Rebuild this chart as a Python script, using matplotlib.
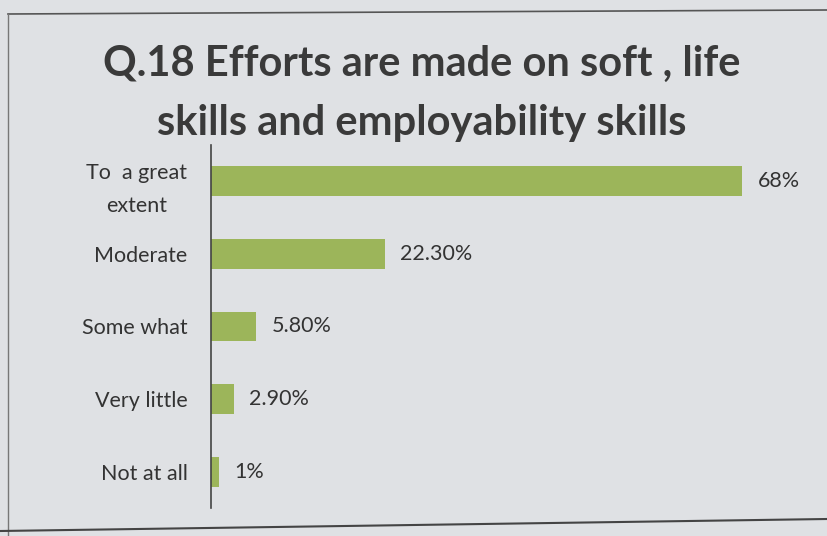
import matplotlib
matplotlib.use("Agg")
import matplotlib.pyplot as plt
from matplotlib.lines import Line2D

categories = ["To  a great\nextent", "Moderate", "Some what", "Very little", "Not at all"]
values = [68, 22.3, 5.8, 2.9, 1]
value_labels = ["68%", "22.30%", "5.80%", "2.90%", "1%"]
title = "Q.18 Efforts are made on soft , life\nskills and employability skills"

fam = ["Lato", "DejaVu Sans"]
plt.rcParams['font.family'] = fam

W, H = 827, 536
fig = plt.figure(figsize=(W/100, H/100), dpi=100)
fig.patch.set_facecolor("#dfe1e4")

ax = fig.add_axes([211/W, (H-508)/H, 600/W, 363/H])
ax.set_facecolor("none")
y = list(range(len(categories)))
ax.barh(y, values, height=0.41, color="#9cb55a")
ax.set_xlim(0, 76.8)
ax.set_ylim(4.5, -0.5)
ax.set_yticks(y)
ax.set_yticklabels(categories, fontsize=15.5, color="#333333", ha="right",
                   multialignment="center", linespacing=1.8)
ax.tick_params(axis="y", length=0, pad=17)
ax.set_xticks([])
for s in ["top", "right", "bottom"]:
    ax.spines[s].set_visible(False)
ax.spines["left"].set_color("#444444")
ax.spines["left"].set_linewidth(1.2)

for yi, v, lab in zip(y, values, value_labels):
    ax.annotate(lab, (v, yi), xytext=(11, 0), textcoords="offset points",
                ha="left", va="center", fontsize=15.5, color="#333333")

fig.text(422/W, 1-93/H, title, ha="center", va="center", fontsize=30,
         fontweight="bold", color="#3a3a3a", linespacing=1.68)

# slide frame
fig.add_artist(Line2D([8/W, 1], [1-14/H, 1-10/H], color="#555555", lw=1.2))
fig.add_artist(Line2D([8/W, 8/W], [1-14/H, 0], color="#777777", lw=1.0))
fig.add_artist(Line2D([0, 1], [1-531/H, 1-519/H], color="#444444", lw=1.5))

fig.savefig("out.png", dpi=100, facecolor=fig.get_facecolor())
